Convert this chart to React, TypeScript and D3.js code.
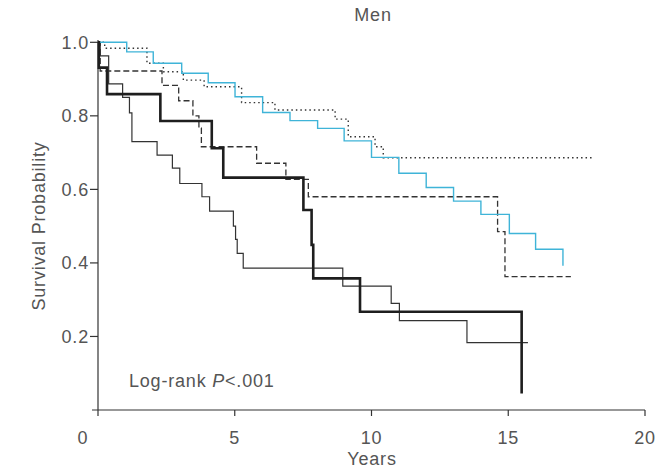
import React from "react";
import * as d3 from "d3";

const W = 664;
const H = 469;

// Kaplan-Meier steps: time (years) at which survival drops, and survival after the drop
const cyanT = [0, 1.05, 2.02, 3.06, 4.03, 5.01, 6.02, 7.02, 8.03, 9.0, 10.0, 11.0, 12.0, 13.0, 14.0, 15.04, 16.0, 17.0];
const cyanS = [1.0, 0.974, 0.943, 0.916, 0.89, 0.852, 0.809, 0.787, 0.766, 0.732, 0.687, 0.644, 0.605, 0.568, 0.532, 0.48, 0.437, 0.392];

const dottedT = [0, 0.245, 1.79, 2.39, 3.12, 3.88, 5.25, 6.47, 8.67, 9.15, 10.13, 10.43, 18.05];
const dottedS = [1.0, 0.984, 0.943, 0.92, 0.897, 0.879, 0.836, 0.816, 0.791, 0.743, 0.716, 0.686, 0.686];

const dashedT = [0, 0.08, 2.34, 2.95, 3.47, 3.69, 3.78, 5.8, 6.87, 7.69, 14.61, 14.88, 17.29];
const dashedS = [1.0, 0.922, 0.883, 0.841, 0.8, 0.767, 0.716, 0.671, 0.627, 0.58, 0.485, 0.3625, 0.3625];

const thickT = [0, 0.03, 0.33, 2.28, 4.16, 4.58, 7.51, 7.81, 7.87, 9.58, 15.49];
const thickS = [1.0, 0.931, 0.859, 0.786, 0.712, 0.632, 0.544, 0.449, 0.358, 0.267, 0.045];

const thinT = [0, 0.08, 0.39, 0.9, 1.15, 1.24, 2.16, 2.72, 2.99, 3.8, 4.08, 4.95, 5.03, 5.09, 5.31, 8.95, 10.72, 11.02, 13.49, 15.72];
const thinS = [1.0, 0.963, 0.887, 0.85, 0.808, 0.73, 0.693, 0.658, 0.616, 0.58, 0.541, 0.5, 0.464, 0.426, 0.386, 0.337, 0.29, 0.243, 0.183, 0.183];

const xTicks = [0, 5, 10, 15, 20];
const yTicks = [0.2, 0.4, 0.6, 0.8, 1.0];

const x = d3.scaleLinear().domain([0, 20]).range([98, 645]);
const y = d3.scaleLinear().domain([0, 1]).range([410, 42.3]);

const line = d3
  .line<[number, number]>()
  .x((d) => x(d[0]))
  .y((d) => y(d[1]))
  .curve(d3.curveStepAfter);

const pts = (t: number[], s: number[]) => t.map((v, i) => [v, s[i]] as [number, number]);

const FONT = "'Liberation Sans', Arial, Helvetica, sans-serif";
const TXT = "#555";
const FS = 18;
const LS = 0.8;

export default function App() {
  return (
    <svg
      width={W}
      height={H}
      style={{ position: "absolute", left: 0, top: 0, background: "#fff" }}
      fontFamily={FONT}
      letterSpacing={LS}
    >
      <text x={373} y={21} textAnchor="middle" fontSize={FS} fill={TXT}>
        Men
      </text>

      {/* axes */}
      <line x1={x(0)} x2={x(0)} y1={40} y2={y(0)} stroke="#333" strokeWidth={1.2} />
      <line x1={92} x2={x(20)} y1={y(0)} y2={y(0)} stroke="#333" strokeWidth={1.2} />
      {yTicks.map((t) => (
        <g key={"y" + t}>
          <line x1={x(0) - 8} x2={x(0)} y1={y(t)} y2={y(t)} stroke="#333" strokeWidth={1.2} />
          <text x={x(0) - 9} y={y(t)} dy="0.36em" textAnchor="end" fontSize={FS} fill={TXT}>
            {t.toFixed(1)}
          </text>
        </g>
      ))}
      {xTicks.map((t) => (
        <g key={"x" + t}>
          <line x1={x(t)} x2={x(t)} y1={y(0)} y2={y(0) + 6} stroke="#333" strokeWidth={1.2} />
          <text x={t === 0 ? x(t) - 15 : x(t)} y={444} textAnchor="middle" fontSize={FS} fill={TXT}>
            {t}
          </text>
        </g>
      ))}
      <text x={372} y={465} textAnchor="middle" fontSize={FS} fill={TXT}>
        Years
      </text>
      <text
        transform={`translate(45,226) rotate(-90)`}
        textAnchor="middle"
        fontSize={FS}
        fill={TXT}
      >
        Survival Probability
      </text>

      {/* curves */}
      <path d={line(pts(thinT, thinS)) || ""} fill="none" stroke="#333" strokeWidth={1.2} />
      <path d={line(pts(dashedT, dashedS)) || ""} fill="none" stroke="#333" strokeWidth={1.3} strokeDasharray="6,3" />
      <path d={line(pts(dottedT, dottedS)) || ""} fill="none" stroke="#333" strokeWidth={1.4} strokeDasharray="1.5,3" />
      <path d={line(pts(cyanT, cyanS)) || ""} fill="none" stroke="#3fb4d8" strokeWidth={1.4} />
      <path d={line(pts(thickT, thickS)) || ""} fill="none" stroke="#1e1e1e" strokeWidth={2.6} />

      <text x={129} y={387} fontSize={FS} fill={TXT}>
        Log-rank <tspan fontStyle="italic">P</tspan>&lt;.001
      </text>
    </svg>
  );
}
